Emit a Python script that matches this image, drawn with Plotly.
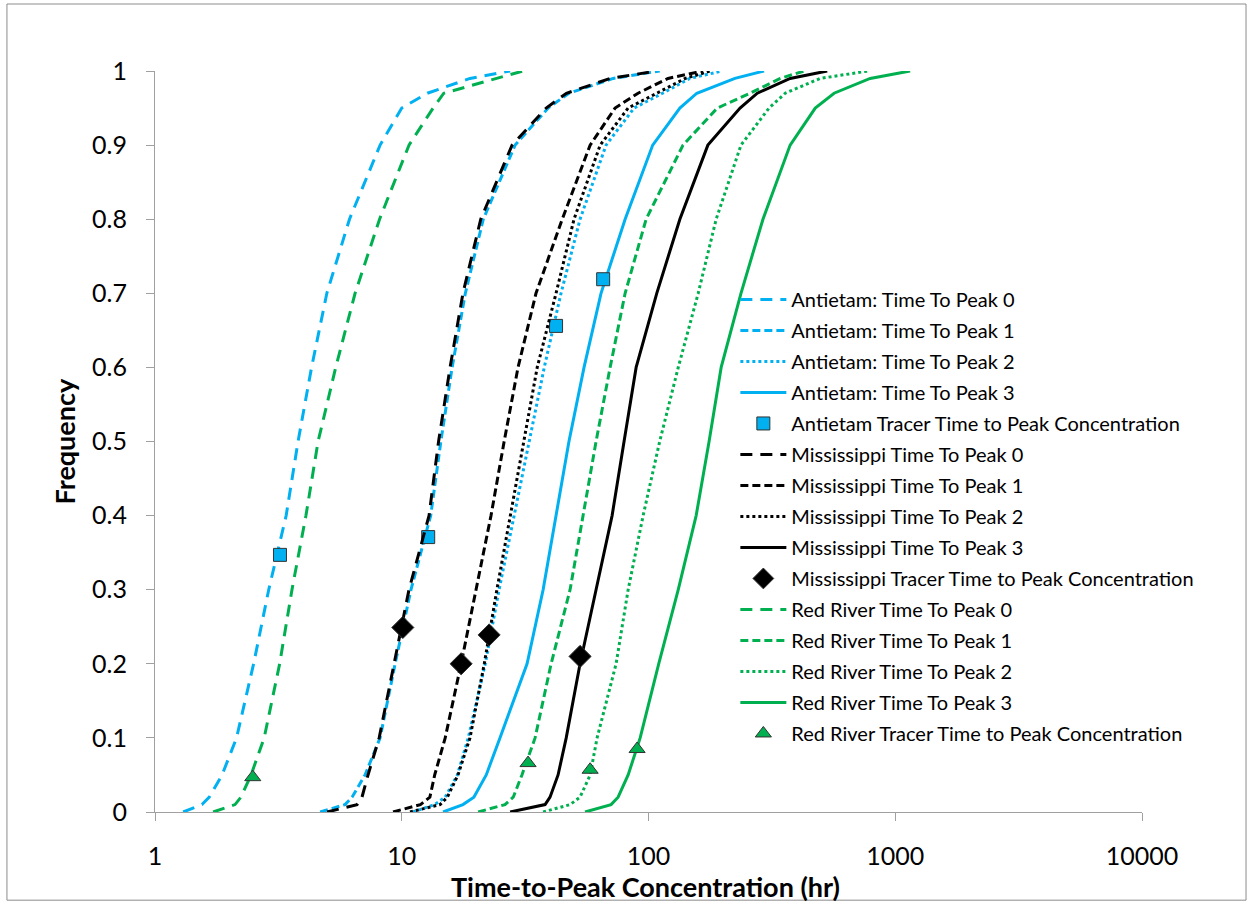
import plotly.graph_objects as go

# Cumulative frequency levels (y) shared by all modelled curves
FREQ = [0, 0.01, 0.02, 0.05, 0.1, 0.2, 0.3, 0.4, 0.5, 0.6, 0.7, 0.8, 0.9, 0.95, 0.97, 0.99, 1.0]

# Time-to-peak (hr) for each curve at the FREQ levels
antietam_ttp0 = [1.30, 1.55, 1.66, 1.87, 2.14, 2.51, 2.89, 3.40, 3.80, 4.31, 4.97, 6.14, 8.17, 10.0, 12.7, 18.9, 27.5]
antietam_ttp1 = [4.67, 5.89, 6.29, 7.10, 8.17, 9.40, 10.9, 13.1, 14.4, 16.0, 18.1, 21.4, 28.8, 39.2, 47.6, 71.9, 111]
antietam_ttp2 = [11.1, 13.6, 15.0, 16.8, 18.6, 21.8, 24.8, 28.5, 32.8, 37.8, 44.2, 52.8, 67.3, 87.4, 114, 147, 199]
antietam_ttp3 = [14.7, 17.7, 19.6, 22.0, 25.0, 32.2, 37.4, 42.2, 47.6, 54.8, 64.2, 80.4, 104, 134, 157, 224, 294]

miss_ttp0 = [4.98, 6.59, 6.90, 7.30, 8.1, 9.3, 10.7, 12.9, 14.1, 15.7, 17.7, 20.9, 28.0, 38.5, 46.5, 70.0, 108]
miss_ttp1 = [9.22, 11.9, 13.0, 13.6, 15.0, 17.4, 20.0, 23.0, 26.0, 29.6, 35.0, 44.7, 58.0, 73.2, 90.7, 120, 166]
miss_ttp2 = [10.8, 14.3, 15.3, 16.9, 18.9, 21.6, 24.3, 27.5, 31.3, 35.4, 42.2, 49.9, 63.7, 82.7, 108, 141, 178]
miss_ttp3 = [27.5, 38.1, 39.9, 43.0, 46.4, 52.8, 61.3, 71.2, 79.6, 89.1, 108, 134, 174, 235, 276, 375, 530]

red_ttp0 = [1.72, 2.11, 2.23, 2.45, 2.77, 3.20, 3.59, 4.09, 4.58, 5.40, 6.47, 8.13, 10.7, 13.4, 14.8, 24.1, 31.0]
red_ttp1 = [20.4, 26.2, 28.3, 30.7, 34.7, 40.3, 48.1, 54.3, 61.3, 69.9, 80.4, 97.8, 138, 190, 258, 342, 427]
red_ttp2 = [37.4, 48.1, 52.8, 58.0, 61.9, 73.9, 82.7, 95.1, 111, 132, 159, 188, 237, 308, 358, 496, 777]
red_ttp3 = [55.3, 70.5, 75.3, 82.7, 92.5, 110, 132, 156, 176, 197, 237, 291, 375, 474, 565, 791, 1149]

# Observed tracer time-to-peak points
antietam_tracer_x = [3.21, 12.8, 42.2, 65.5]
antietam_tracer_y = [0.347, 0.371, 0.656, 0.719]
miss_tracer_x = [10.1, 17.4, 22.6, 52.8]
miss_tracer_y = [0.249, 0.200, 0.239, 0.210]
red_tracer_x = [2.49, 32.5, 58.0, 89.9]
red_tracer_y = [0.047, 0.066, 0.057, 0.085]

# Axis ticks
x_ticks = [1, 10, 100, 1000, 10000]
x_tick_text = ["1", "10", "100", "1000", "10000"]
y_ticks = [0, 0.1, 0.2, 0.3, 0.4, 0.5, 0.6, 0.7, 0.8, 0.9, 1]
y_tick_text = ["0", "0.1", "0.2", "0.3", "0.4", "0.5", "0.6", "0.7", "0.8", "0.9", "1"]

BLUE = "#00B0F0"
GREEN = "#00B050"
BLACK = "#000000"
LONG = "12px,8px"
SHORT = "8px,4px"
DOT = "3px,3px"

fig = go.Figure()

def add_line(x, name, color, dash):
    fig.add_trace(go.Scatter(x=x, y=FREQ, mode="lines", name=name, legendgroup=name,
                             line=dict(color=color, width=3, dash=dash)))

def add_pts(x, y, name, color, symbol, size):
    fig.add_trace(go.Scatter(x=x, y=y, mode="markers", name=name, legendgroup=name,
                             marker=dict(color=color, symbol=symbol, size=size,
                                         line=dict(color="#333333", width=1))))

add_line(antietam_ttp0, "Antietam: Time To Peak 0", BLUE, LONG)
add_line(antietam_ttp1, "Antietam: Time To Peak 1", BLUE, SHORT)
add_line(antietam_ttp2, "Antietam: Time To Peak 2", BLUE, DOT)
add_line(antietam_ttp3, "Antietam: Time To Peak 3", BLUE, "solid")
add_pts(antietam_tracer_x, antietam_tracer_y, "Antietam Tracer Time to Peak Concentration", BLUE, "square", 13)
add_line(miss_ttp0, "Mississippi Time To Peak 0", BLACK, LONG)
add_line(miss_ttp1, "Mississippi Time To Peak 1", BLACK, SHORT)
add_line(miss_ttp2, "Mississippi Time To Peak 2", BLACK, DOT)
add_line(miss_ttp3, "Mississippi Time To Peak 3", BLACK, "solid")
add_pts(miss_tracer_x, miss_tracer_y, "Mississippi Tracer Time to Peak Concentration", BLACK, "diamond", 17)
add_line(red_ttp0, "Red River Time To Peak 0", GREEN, LONG)
add_line(red_ttp1, "Red River Time To Peak 1", GREEN, SHORT)
add_line(red_ttp2, "Red River Time To Peak 2", GREEN, DOT)
add_line(red_ttp3, "Red River Time To Peak 3", GREEN, "solid")
add_pts(red_tracer_x, red_tracer_y, "Red River Tracer Time to Peak Concentration", GREEN, "triangle-up", 14)

AX = "#A0A0A0"
fig.update_layout(
    width=1251, height=906,
    margin=dict(l=155, r=109, t=71, b=94),
    paper_bgcolor="white", plot_bgcolor="white",
    font=dict(family="Lato, sans-serif", color="#000000"),
    showlegend=True,
    legend=dict(x=0.588, y=0.718, xanchor="left", yanchor="top",
                font=dict(family="Lato, sans-serif", size=20, color="#000000"),
                bgcolor="rgba(0,0,0,0)", tracegroupgap=2, itemwidth=46,
                groupclick="toggleitem"),
    xaxis=dict(type="log", range=[0, 4], tickvals=x_ticks, ticktext=x_tick_text,
               showgrid=False, zeroline=False, showline=True, linecolor=AX, linewidth=1,
               ticks="outside", ticklen=8, tickcolor=AX,
               tickfont=dict(family="Lato, sans-serif", size=25, color="#000000"),
               ticklabelstandoff=14),
    yaxis=dict(range=[0, 1], tickvals=y_ticks, ticktext=y_tick_text,
               showgrid=False, zeroline=False, showline=True, linecolor=AX, linewidth=1,
               ticks="outside", ticklen=8, tickcolor=AX,
               tickfont=dict(family="Lato, sans-serif", size=25, color="#000000"),
               ticklabelstandoff=14),
    annotations=[
        dict(text="<b>Frequency</b>", x=-0.0912, y=0.5, xref="paper", yref="paper",
             xanchor="center", yanchor="middle",
             textangle=-90, showarrow=False, font=dict(family="Lato, sans-serif", size=27)),
        dict(text="<b>Time-to-Peak Concentration (hr)</b>", x=0.4965, y=-0.101,
             xref="paper", yref="paper", xanchor="center", yanchor="middle", showarrow=False,
             font=dict(family="Lato, sans-serif", size=27)),
    ],
    shapes=[dict(type="rect", xref="paper", yref="paper",
                 x0=-0.15, x1=1.1054, y0=-0.119, y1=1.0904,
                 line=dict(color="#8C8C8C", width=1), fillcolor="rgba(0,0,0,0)")],
)

fig.write_html("out.html")
